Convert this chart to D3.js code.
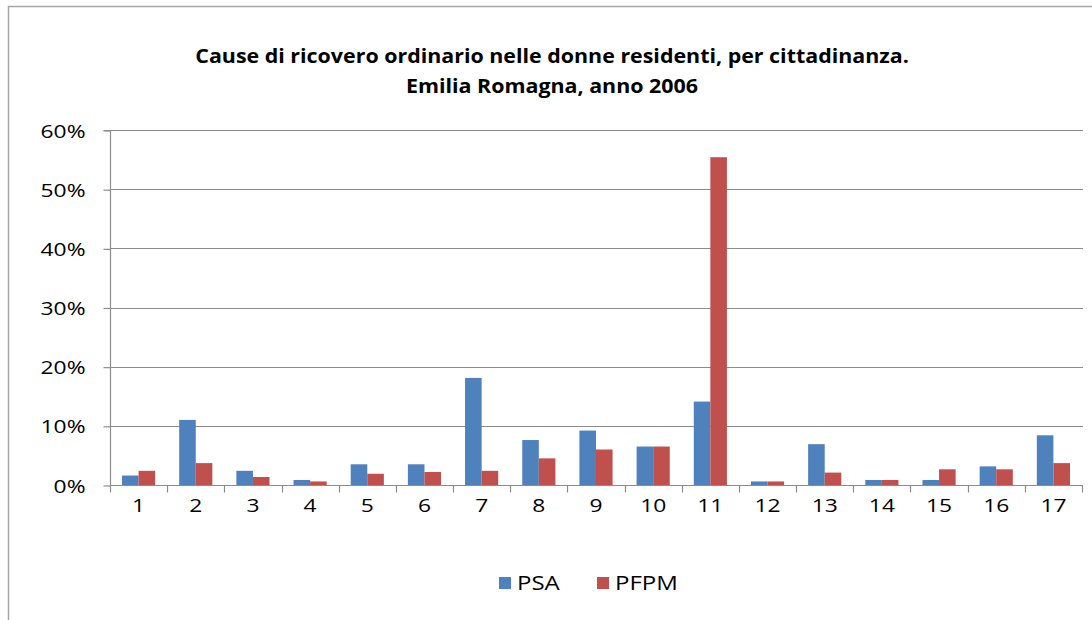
<!DOCTYPE html>
<html>
<head>
<meta charset="utf-8">
<script src="https://cdn.jsdelivr.net/npm/d3@7"></script>
<style>
  body { margin: 0; background: #fff; }
  svg { display: block; }
</style>
</head>
<body>
<div id="chart"></div>
<script>
// Data (percent)
const categories = ["1","2","3","4","5","6","7","8","9","10","11","12","13","14","15","16","17"];
const seriesNames = ["PSA", "PFPM"];
const psaValues  = [1.6, 11.0, 2.4, 0.85, 3.5, 3.5, 18.1, 7.6, 9.2, 6.5, 14.1, 0.6, 6.9, 0.85, 0.85, 3.15, 8.4];
const pfpmValues = [2.4, 3.7, 1.35, 0.6, 1.9, 2.2, 2.4, 4.5, 6.0, 6.5, 55.4, 0.6, 2.1, 0.85, 2.65, 2.65, 3.7];
const yTicks = [0, 10, 20, 30, 40, 50, 60];
const titleLines = ["Cause di ricovero ordinario nelle donne residenti, per cittadinanza.", "Emilia Romagna, anno 2006"];

const width = 1092, height = 620;
const colors = ["#4F81BD", "#C0504D"];
const font = "'Open Sans', Lato, sans-serif";

// the source picture is a bit stretched sideways, widen text to match
function widen(sel, k) {
    sel.each(function() {
        const len = this.getComputedTextLength();
        d3.select(this).attr("textLength", len * k).attr("lengthAdjust", "spacingAndGlyphs");
    });
}

const svg = d3.select("#chart").append("svg")
    .attr("width", width)
    .attr("height", height);

svg.append("rect").attr("width", width).attr("height", height).attr("fill", "#fff");

// outer chart border (only left and top visible)
svg.append("path")
    .attr("d", `M8.5,${height} V6.5 H${width}`)
    .attr("fill", "none")
    .attr("stroke", "#a6a6a6")
    .attr("stroke-width", 1.5);

const plot = { left: 110, right: 1082, top: 130, bottom: 485 };

const x = d3.scaleBand().domain(categories).range([plot.left, plot.right]).paddingInner(0.42).paddingOuter(0.21);
const xSub = d3.scaleBand().domain(seriesNames).range([0, x.bandwidth()]);
const y = d3.scaleLinear().domain([0, 60]).range([plot.bottom, plot.top]);

// gridlines
svg.append("g").selectAll("line").data(yTicks.filter(t => t > 0)).join("line")
    .attr("x1", plot.left).attr("x2", plot.right + 1)
    .attr("y1", d => Math.round(y(d)) + 0.5).attr("y2", d => Math.round(y(d)) + 0.5)
    .attr("stroke", "#8c8c8c").attr("stroke-width", 1.2);

// bars
const rows = categories.map((c, i) => ({ cat: c, vals: [psaValues[i], pfpmValues[i]] }));
const groups = svg.append("g").selectAll("g").data(rows).join("g")
    .attr("transform", d => `translate(${x(d.cat)},0)`);
groups.selectAll("rect").data(d => d.vals.map((v, j) => ({ v, s: seriesNames[j], j }))).join("rect")
    .attr("x", d => xSub(d.s))
    .attr("width", xSub.bandwidth())
    .attr("y", d => y(d.v))
    .attr("height", d => y(0) - y(d.v))
    .attr("fill", d => colors[d.j]);

// y axis
const yAxis = d3.axisLeft(y).tickValues(yTicks).tickSize(7).tickFormat(d => d + "%");
const yg = svg.append("g").attr("transform", `translate(${plot.left + 0.5},0.5)`).call(yAxis);
yg.select(".domain").attr("stroke", "#8c8c8c").attr("stroke-width", 1.2).attr("d", `M-7,${plot.top}H0V${plot.bottom}`);
yg.selectAll(".tick line").attr("stroke", "#8c8c8c").attr("stroke-width", 1.2);
yg.selectAll(".tick text").attr("x", -25).attr("dy", "0.35em")
    .attr("font-family", font).attr("font-size", 19).attr("fill", "#000")
    .call(widen, 1.2);

// x axis
const xAxis = d3.axisBottom(x).tickSize(0).tickPadding(13);
const xg = svg.append("g").attr("transform", `translate(0,${plot.bottom + 0.5})`).call(xAxis);
xg.select(".domain").attr("stroke", "#8c8c8c").attr("stroke-width", 1.2).attr("d", `M${plot.left},0H${plot.right + 1}`);
xg.selectAll(".tick text").attr("font-family", font).attr("font-size", 19).attr("fill", "#000")
    .call(widen, 1.2);
// tick marks at category boundaries
const boundaries = d3.range(categories.length + 1).map(i => plot.left + i * (plot.right - plot.left) / categories.length);
xg.append("g").selectAll("line").data(boundaries).join("line")
    .attr("x1", d => Math.round(d) + 0.5).attr("x2", d => Math.round(d) + 0.5)
    .attr("y1", 0).attr("y2", 7)
    .attr("stroke", "#8c8c8c").attr("stroke-width", 1.2);

// title
svg.append("g").selectAll("text").data(titleLines).join("text")
    .attr("x", 552).attr("y", (d, i) => 63 + i * 30)
    .attr("text-anchor", "middle")
    .attr("font-family", font).attr("font-weight", "bold").attr("font-size", 20)
    .attr("fill", "#000")
    .text(d => d)
    .call(widen, 1.07);

// legend
const legendPos = [499, 597];
const lg = svg.append("g").selectAll("g").data(seriesNames).join("g")
    .attr("transform", (d, i) => `translate(${legendPos[i]},577)`);
lg.append("rect").attr("width", 12).attr("height", 12).attr("fill", (d, i) => colors[i]);
lg.append("text").attr("x", 18).attr("y", 6).attr("dy", "0.36em")
    .attr("font-family", font).attr("font-size", 20).attr("fill", "#000")
    .text(d => d)
    .call(widen, 1.2);
</script>
</body>
</html>
